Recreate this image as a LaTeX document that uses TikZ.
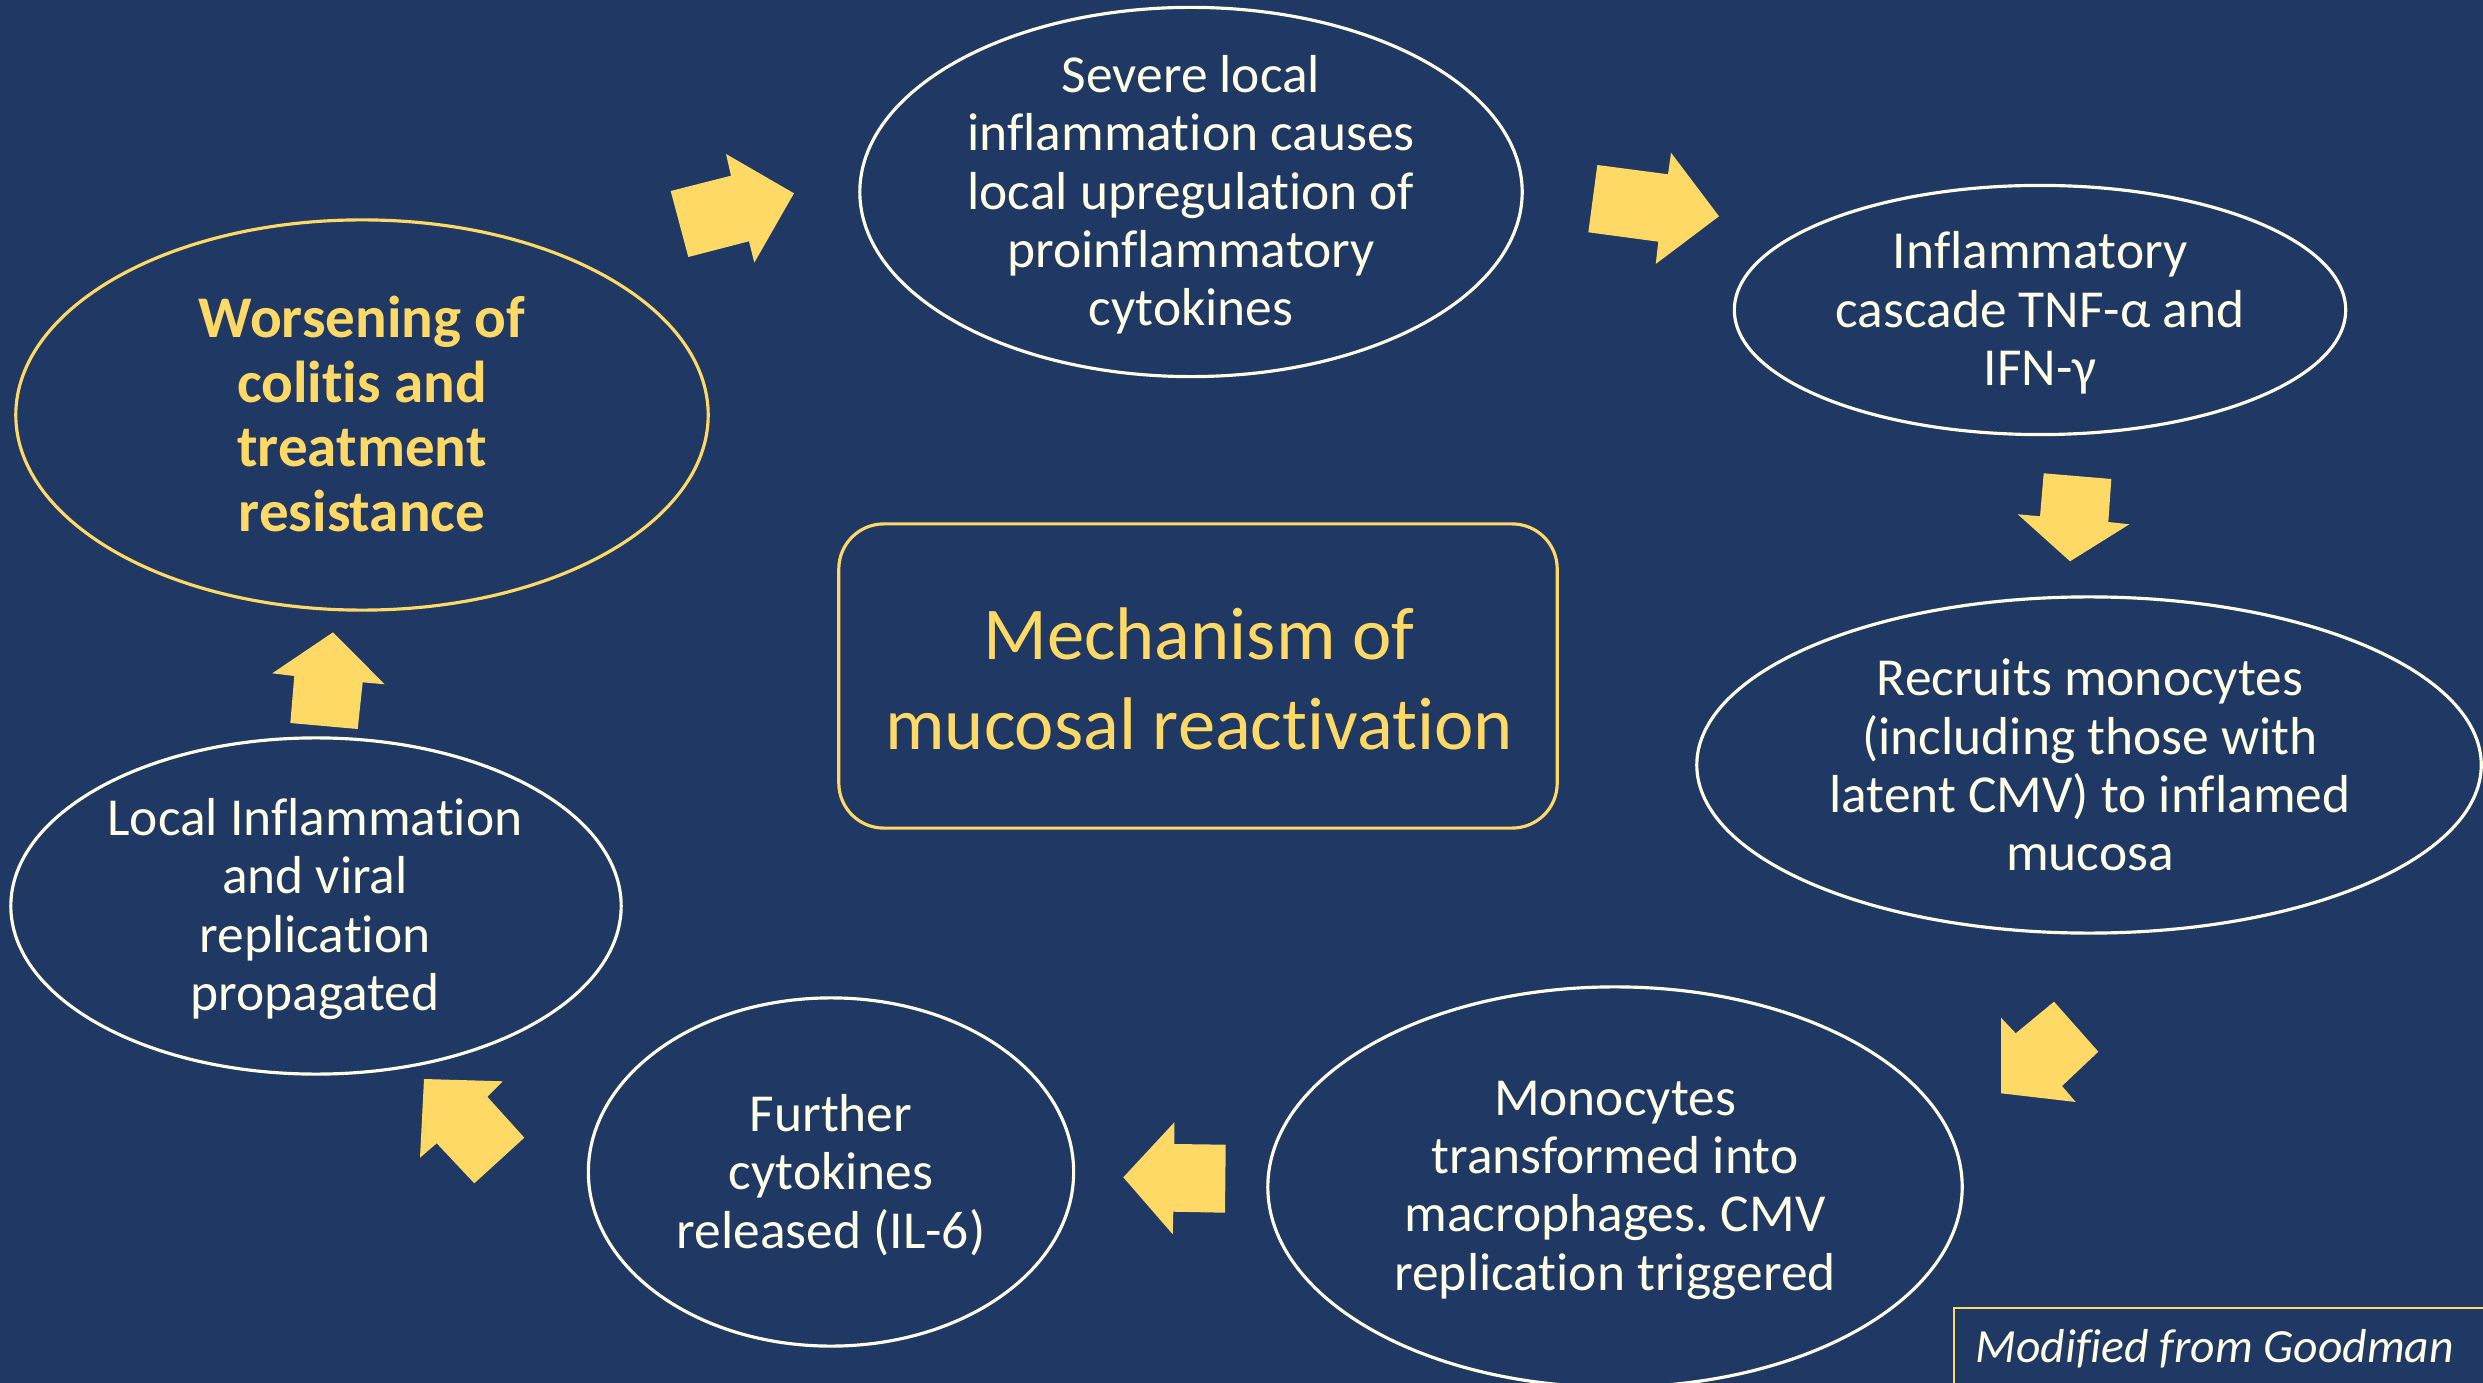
\documentclass[tikz,border=0pt]{standalone}
\usepackage{fontspec}
\setmainfont{Carlito}[Ligatures={NoCommon}]
\usetikzlibrary{shapes.geometric}
\frenchspacing
\definecolor{bgblue}{HTML}{203864}
\definecolor{gold}{HTML}{FFD966}
\definecolor{cream}{HTML}{FFFFE6}
\tikzset{
  oval/.style={ellipse, draw=cream, line width=0.9pt, inner sep=0pt},
  goldoval/.style={ellipse, draw=gold, line width=0.9pt, inner sep=0pt},
  bodytext/.style={text=cream, align=center, inner sep=0pt, font=\fontsize{15.2pt}{16.6pt}\selectfont},
  blockarrow/.style={fill=gold, draw=none},
}
\begin{document}
\begin{tikzpicture}[x=0.01cm, y=-0.01cm]
\fill[bgblue] (0,0) rectangle (2483,1383);
\useasboundingbox (0,0) rectangle (2483,1383);

% ellipses
\node[oval, minimum width=6.62cm, minimum height=3.69cm] (e1) at (1191,192) {};
\node[oval, minimum width=6.11cm, minimum height=2.49cm] (e2) at (2040,310) {};
\node[oval, minimum width=7.84cm, minimum height=3.36cm] (e3) at (2089,765) {};
\node[oval, minimum width=6.94cm, minimum height=4.00cm] (e4) at (1615,1187) {};
\node[oval, minimum width=4.85cm, minimum height=3.48cm] (e5) at (831,1172) {};
\node[oval, minimum width=6.10cm, minimum height=3.36cm] (e6) at (316,906) {};
\node[goldoval, minimum width=6.92cm, minimum height=3.90cm] (e7) at (362,415) {};

% texts
\node[bodytext] (t1) at (1191,195) {Severe local\\inflammation causes\\local upregulation of\\proinflammatory\\cytokines};
\node[bodytext] (t2) at (2040,313) {Inflammatory\\cascade TNF-α and\\IFN-γ};
\node[bodytext] (t3) at (2090,765) {Recruits monocytes\\(including those with\\latent CMV) to inflamed\\mucosa};
\node[bodytext] (t4) at (1615,1190) {Monocytes\\transformed into\\macrophages. CMV\\replication triggered};
\node[bodytext] (t5) at (831,1175) {Further\\cytokines\\released (IL-6)};
\node[bodytext] (t6) at (315,909) {Local Inflammation\\and viral\\replication\\propagated};
\node[text=gold, align=center, inner sep=0pt, font=\bfseries\fontsize{16.8pt}{18.4pt}\selectfont] (t7) at (362,414) {Worsening of\\colitis and\\treatment\\resistance};

% central box
\node[draw=gold, line width=0.9pt, rounded corners=0.45cm, minimum width=7.18cm, minimum height=3.04cm, inner sep=0pt] (box) at (1198,676) {};
\node[text=gold, align=center, inner sep=0pt, font=\fontsize{21.2pt}{25.6pt}\selectfont] (title) at (1199,679) {Mechanism of\\mucosal reactivation};

% source box
\node[draw=gold, line width=0.6pt, anchor=north west, minimum width=5.6cm, minimum height=1.0cm, inner sep=0pt] (src) at (1953,1307) {};
\node[text=cream, anchor=west, inner sep=0pt, font=\itshape\fontsize{13.55pt}{15pt}\selectfont] (srct) at (1975,1349) {Modified from Goodman};

% block arrows
\fill[blockarrow] (670.7,191) -- (731,175.7) -- (726,154) -- (794,193.3) -- (754.3,262.7) -- (749,241.3) -- (688.3,257) -- cycle;
\fill[blockarrow] (1597.3,165) -- (1668,174.3) -- (1671,152.7) -- (1719,216.3) -- (1655.7,264) -- (1658.3,241.7) -- (1588.3,232.3) -- cycle;
\fill[blockarrow] (2043.7,473.3) -- (2111.3,479) -- (2108.3,522) -- (2129.3,524.3) -- (2070,561.3) -- (2017.7,514.3) -- (2040,516.3) -- cycle;
\fill[blockarrow] (2054,1001.7) -- (2098.3,1051.7) -- (2062,1086) -- (2075.7,1102) -- (2001,1093.3) -- (2001,1017.7) -- (2015.7,1033.3) -- cycle;
\fill[blockarrow] (1123.3,1177.3) -- (1174.3,1122.3) -- (1174.3,1144) -- (1225.7,1144.7) -- (1225,1212.7) -- (1173.3,1211.7) -- (1172.7,1234.3) -- cycle;
\fill[blockarrow] (424,1079) -- (502.7,1081.3) -- (487.3,1096.7) -- (524.3,1137.7) -- (474.3,1183.3) -- (436.7,1143.3) -- (420,1157.7) -- cycle;
\fill[blockarrow] (333,632.3) -- (384.7,684.3) -- (362.7,682.3) -- (357.7,729) -- (290.3,723) -- (294.3,676) -- (272.3,673.3) -- cycle;
\end{tikzpicture}
\end{document}
